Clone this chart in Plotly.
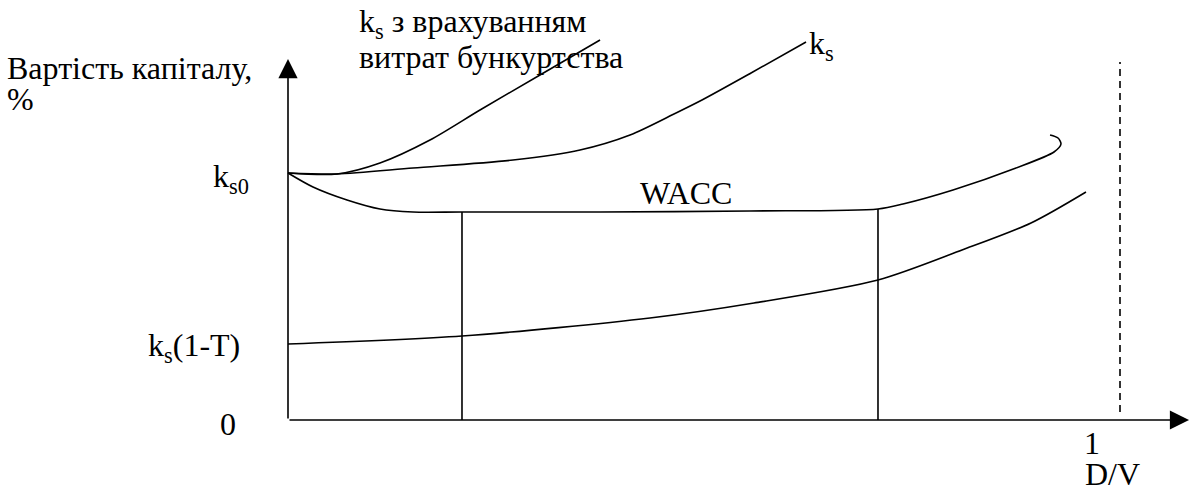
import plotly.graph_objects as go

# ---------------- data (x: D/V share, y: cost of capital, %) ----------------
dv_bankr = [0.0, 0.0609, 0.1144, 0.1766, 0.2388, 0.3134, 0.3881]
ks_bankr = [10.0, 9.96, 10.405, 11.336, 12.551, 13.968, 15.385]

dv_ks = [0.0, 0.0609, 0.1555, 0.2799, 0.3632, 0.4254, 0.4826, 0.5149, 0.5759, 0.6443]
ks = [10.0, 9.96, 10.202, 10.526, 10.931, 11.538, 12.429, 12.955, 14.049, 15.304]

dv_wacc = [0.0, 0.0311, 0.0734, 0.1144, 0.1555, 0.2164, 0.3881, 0.5746, 0.7338,
           0.7649, 0.8271, 0.9055, 0.9527, 0.9614, 0.9577, 0.9478]
wacc = [10.0, 9.433, 8.907, 8.543, 8.421, 8.421, 8.421, 8.462, 8.543,
        8.745, 9.312, 10.202, 10.850, 11.174, 11.417, 11.538]

dv_kd = [0.0, 0.2164, 0.4502, 0.5796, 0.7338, 0.8383, 0.9241, 0.9925]
kd_after_tax = [3.077, 3.401, 4.130, 4.737, 5.668, 6.883, 7.976, 9.231]

# optimal-range bounds (D/V) and their WACC level
opt_dv = [0.2164, 0.7338]
opt_wacc = [8.421, 8.543]

# asymptote near D/V = 1
asym_dv = 1.0348
asym_range = [0.324, 14.49]

# axis extents
Y_TOP = 14.615
X_END = 1.1207

X_RANGE = [-0.3582, 1.1256]
Y_RANGE = [-2.834, 17.004]

FONT = "Liberation Serif, Times New Roman, serif"
FS = 32
LW = 1.6
C = "black"

fig = go.Figure()

def curve(xs, ys):
    fig.add_trace(go.Scatter(x=xs, y=ys, mode="lines",
                             line=dict(color=C, width=LW, shape="spline", smoothing=0.8),
                             hoverinfo="skip", showlegend=False))

curve(dv_bankr, ks_bankr)
curve(dv_ks, ks)
curve(dv_wacc, wacc)
curve(dv_kd, kd_after_tax)

for xv, yv in zip(opt_dv, opt_wacc):
    fig.add_trace(go.Scatter(x=[xv, xv], y=[0, yv], mode="lines",
                             line=dict(color=C, width=LW), hoverinfo="skip", showlegend=False))

fig.add_trace(go.Scatter(x=[asym_dv, asym_dv], y=asym_range, mode="lines",
                         line=dict(color=C, width=LW, dash="7px,5px"),
                         hoverinfo="skip", showlegend=False))

# axes with arrows
fig.add_annotation(x=0, y=Y_TOP, ax=0, ay=0, xref="x", yref="y", axref="x", ayref="y",
                   showarrow=True, arrowhead=2, arrowsize=2.4, arrowwidth=LW, arrowcolor=C, text="")
fig.add_annotation(x=X_END, y=0, ax=0, ay=0, xref="x", yref="y", axref="x", ayref="y",
                   showarrow=True, arrowhead=2, arrowsize=2.4, arrowwidth=LW, arrowcolor=C, text="")

def label(text, x, y, xa="left", ya="middle"):
    fig.add_annotation(x=x, y=y, xref="x", yref="y", text=text, showarrow=False,
                       xanchor=xa, yanchor=ya, borderpad=0,
                       font=dict(family=FONT, size=FS, color=C))

label("Вартість капіталу,", -0.3508, 14.25)
label("%", -0.3508, 12.99)
label("k<sub>s</sub> з врахуванням", 0.0871, 16.07)
label("витрат бункуртства", 0.0871, 14.70)
label("k<sub>s</sub>", 0.6468, 15.18)
label("k<sub>s0</sub>", -0.0473, 9.76, xa="right")
label("WACC", 0.495, 9.19, xa="center")
label("k<sub>s</sub>(1-T)", -0.0585, 2.95, xa="right")
label("0", -0.0746, -0.162, xa="center")
label("1", 1.0, -0.93, xa="center")
label("D/V", 1.0249, -2.17, xa="center")

fig.update_layout(
    width=1193, height=490,
    margin=dict(l=0, r=0, t=0, b=0),
    paper_bgcolor="white", plot_bgcolor="white",
    xaxis=dict(range=X_RANGE, visible=False, fixedrange=True),
    yaxis=dict(range=Y_RANGE, visible=False, fixedrange=True),
    showlegend=False,
)

fig.write_html("out.html", config={"displayModeBar": False},
               post_script="document.body.style.margin='0';document.body.style.overflow='hidden';")
